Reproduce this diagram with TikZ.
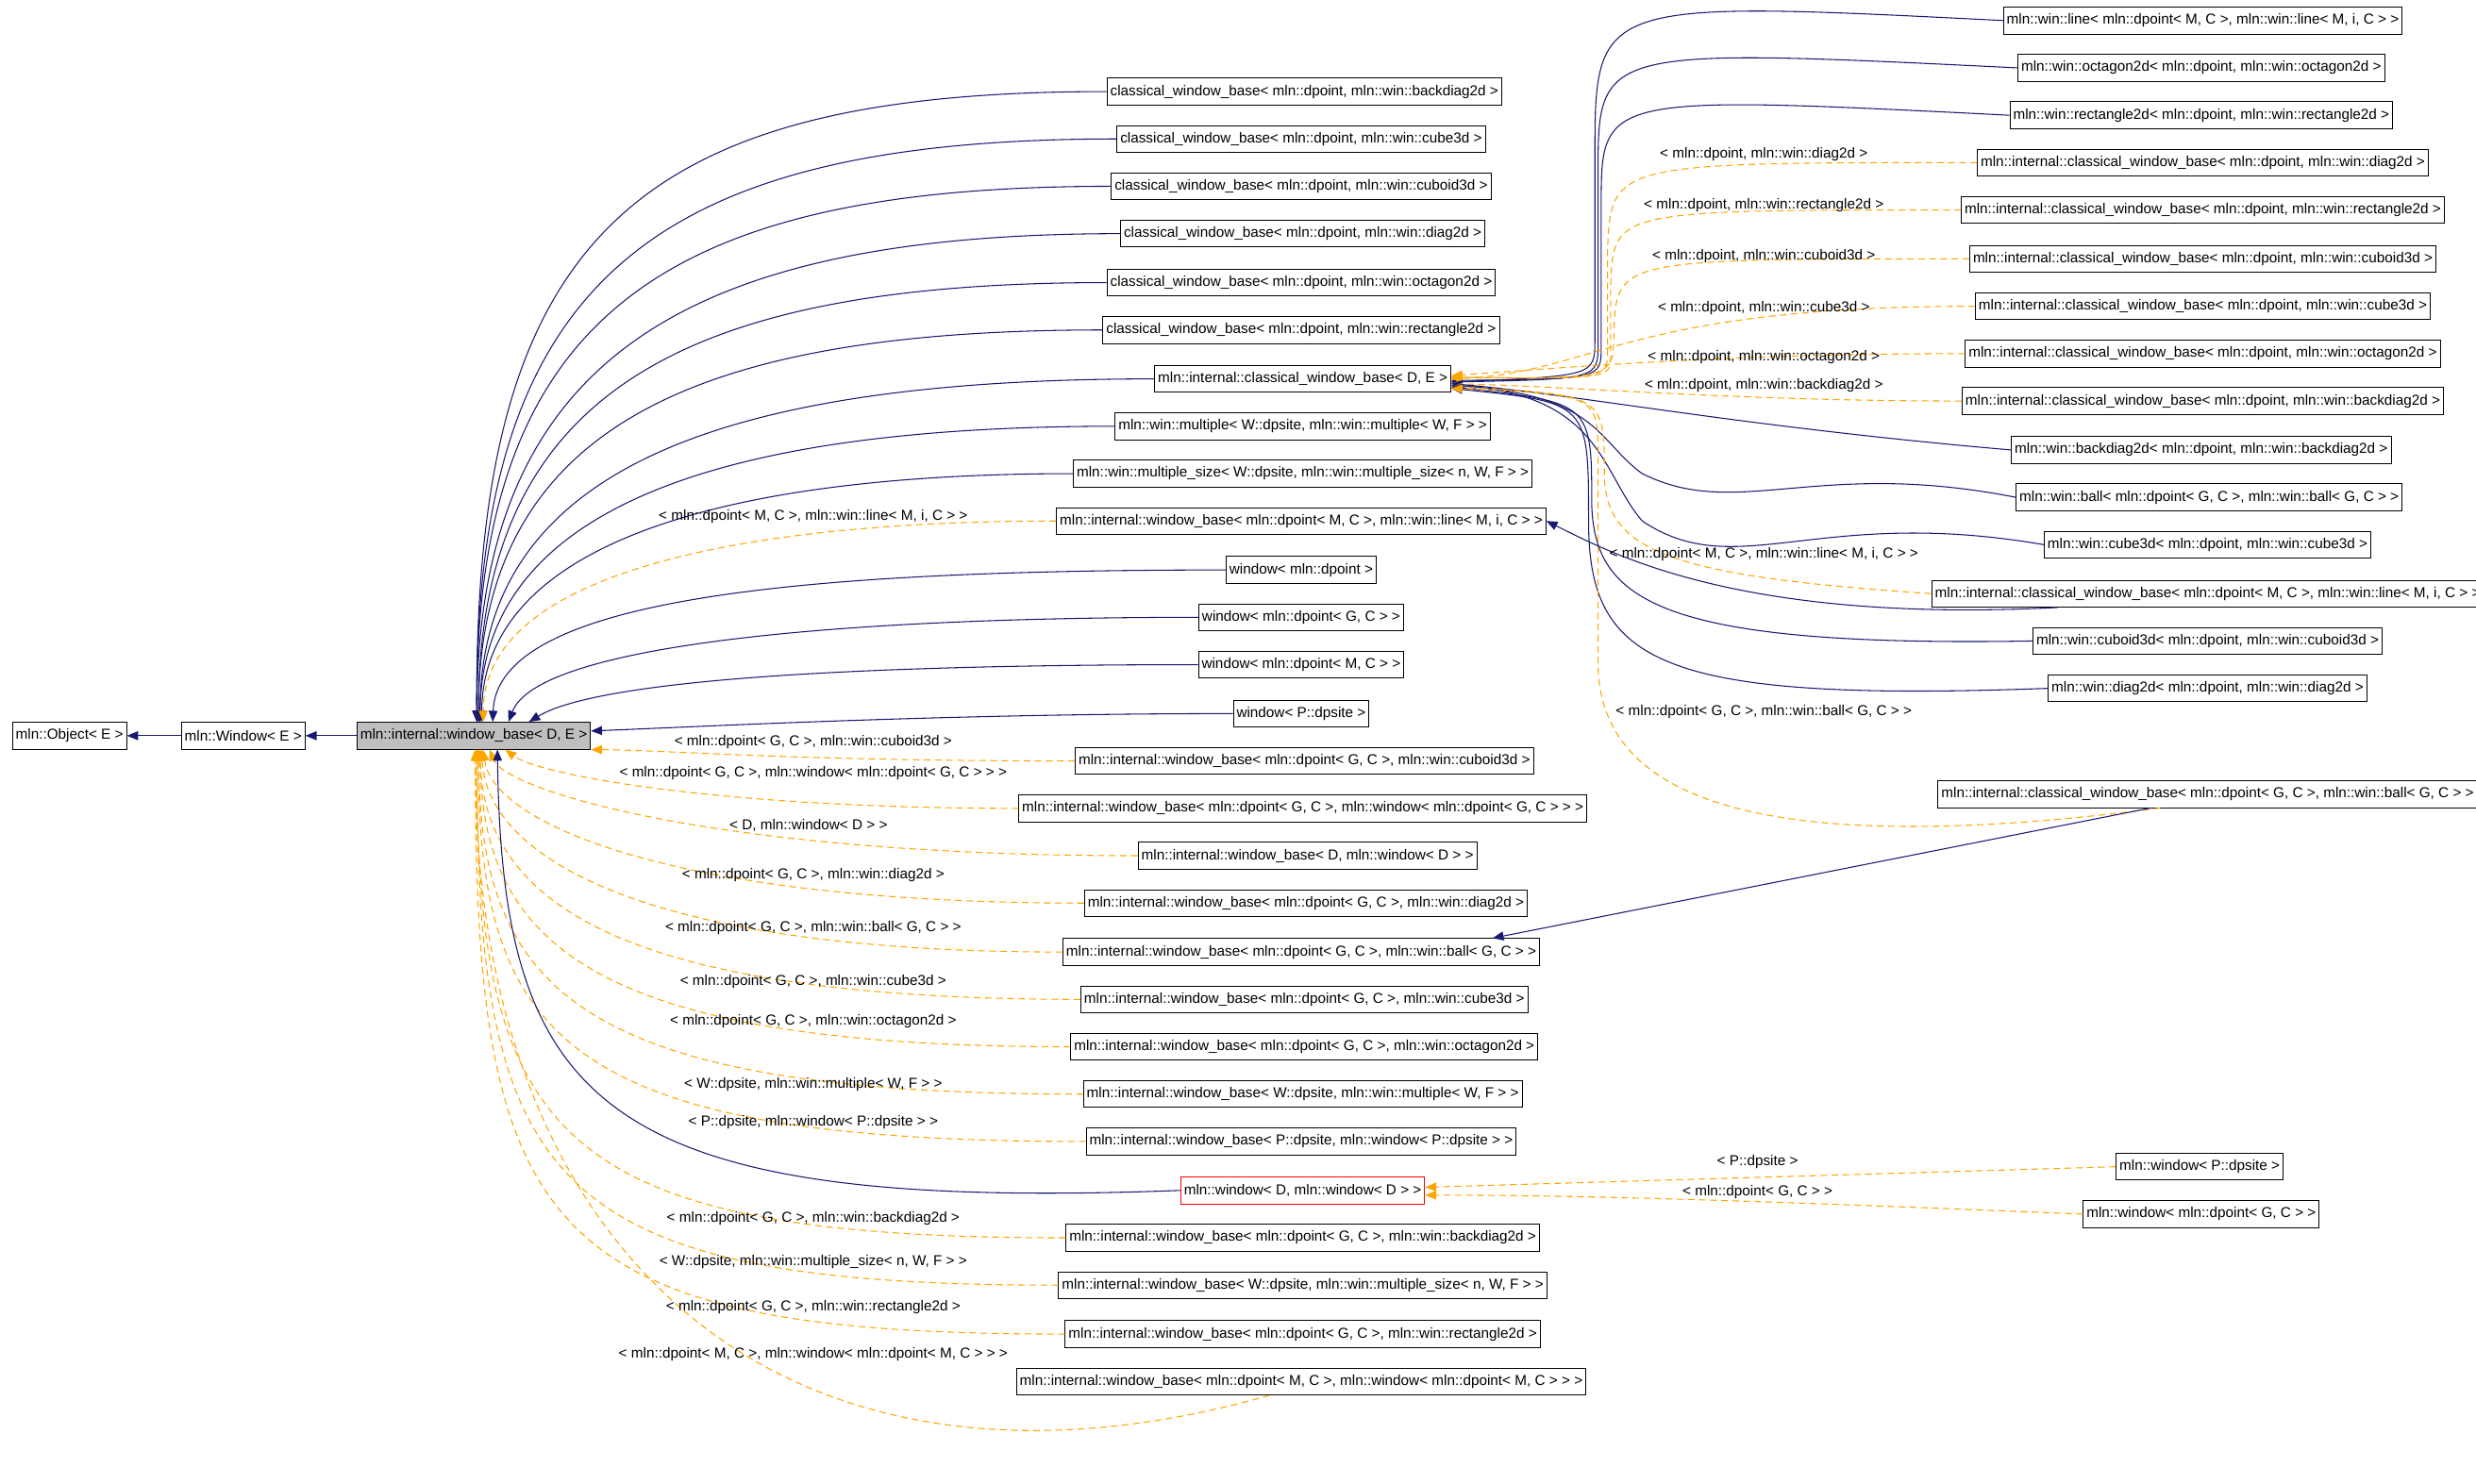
\documentclass[tikz,border=0pt]{standalone}
\usepackage{fontspec}
\setmainfont{Liberation Sans}
\usetikzlibrary{arrows.meta,calc}
\definecolor{nv}{HTML}{191970}
\definecolor{og}{HTML}{FFA500}
\definecolor{gb}{HTML}{BFBFBF}
\tikzset{
 box/.style={draw=black,line width=0.8pt,minimum height=0.85cm,inner xsep=3pt,inner ysep=0pt,font=\fontsize{13}{15}\selectfont,fill=white},
 lbl/.style={inner sep=1pt,font=\fontsize{13}{15}\selectfont},
 inh/.style={draw=nv,line width=0.9pt,-{Triangle[length=10pt,width=8pt]}},
 tpl/.style={draw=og,line width=0.9pt,dash pattern=on 6pt off 4pt,-{Triangle[length=10pt,width=8pt,fill=og]}},
}
\begin{document}
\begin{tikzpicture}[x=0.05cm,y=-0.05cm]
\useasboundingbox (0,0) rectangle (1568,939.4);
% left
\node[box] (obj) at (44,466) {mln::Object< E >};
\node[box] (win) at (154,466) {mln::Window< E >};
\node[box,fill=gb] (wb) at (300,466) {mln::internal::window\_base< D, E >};
% middle
\node[box] (n1) at (826,58) {classical\_window\_base< mln::dpoint, mln::win::backdiag2d >};
\node[box] (n2) at (824,88) {classical\_window\_base< mln::dpoint, mln::win::cube3d >};
\node[box] (n3) at (824,118) {classical\_window\_base< mln::dpoint, mln::win::cuboid3d >};
\node[box] (n4) at (825,148) {classical\_window\_base< mln::dpoint, mln::win::diag2d >};
\node[box] (n5) at (824,179) {classical\_window\_base< mln::dpoint, mln::win::octagon2d >};
\node[box] (n6) at (824,209) {classical\_window\_base< mln::dpoint, mln::win::rectangle2d >};
\node[box] (n7) at (825,240) {mln::internal::classical\_window\_base< D, E >};
\node[box] (n8) at (825,270) {mln::win::multiple< W::dpsite, mln::win::multiple< W, F > >};
\node[box] (n9) at (825,300) {mln::win::multiple\_size< W::dpsite, mln::win::multiple\_size< n, W, F > >};
\node[box] (n10) at (824,330) {mln::internal::window\_base< mln::dpoint< M, C >, mln::win::line< M, i, C > >};
\node[box] (n11) at (824,361) {window< mln::dpoint >};
\node[box] (n12) at (824,391) {window< mln::dpoint< G, C > >};
\node[box] (n13) at (824,421) {window< mln::dpoint< M, C > >};
\node[box] (n14) at (824,452) {window< P::dpsite >};
\node[box] (n15) at (826,482) {mln::internal::window\_base< mln::dpoint< G, C >, mln::win::cuboid3d >};
\node[box] (n16) at (825,512) {mln::internal::window\_base< mln::dpoint< G, C >, mln::window< mln::dpoint< G, C > > >};
\node[box] (n17) at (828,542) {mln::internal::window\_base< D, mln::window< D > >};
\node[box] (n18) at (827,572) {mln::internal::window\_base< mln::dpoint< G, C >, mln::win::diag2d >};
\node[box] (n19) at (824,603) {mln::internal::window\_base< mln::dpoint< G, C >, mln::win::ball< G, C > >};
\node[box] (n20) at (826,633) {mln::internal::window\_base< mln::dpoint< G, C >, mln::win::cube3d >};
\node[box] (n21) at (826,663) {mln::internal::window\_base< mln::dpoint< G, C >, mln::win::octagon2d >};
\node[box] (n22) at (825,693) {mln::internal::window\_base< W::dpsite, mln::win::multiple< W, F > >};
\node[box] (n23) at (824,723) {mln::internal::window\_base< P::dpsite, mln::window< P::dpsite > >};
\node[box,draw=red] (n24) at (825,754) {mln::window< D, mln::window< D > >};
\node[box] (n25) at (825,784) {mln::internal::window\_base< mln::dpoint< G, C >, mln::win::backdiag2d >};
\node[box] (n26) at (825,814) {mln::internal::window\_base< W::dpsite, mln::win::multiple\_size< n, W, F > >};
\node[box] (n27) at (825,845) {mln::internal::window\_base< mln::dpoint< G, C >, mln::win::rectangle2d >};
\node[box] (n28) at (824,875) {mln::internal::window\_base< mln::dpoint< M, C >, mln::window< mln::dpoint< M, C > > >};
% right
\node[box] (r1) at (1395,13) {mln::win::line< mln::dpoint< M, C >, mln::win::line< M, i, C > >};
\node[box] (r2) at (1394,43) {mln::win::octagon2d< mln::dpoint, mln::win::octagon2d >};
\node[box] (r3) at (1394,73) {mln::win::rectangle2d< mln::dpoint, mln::win::rectangle2d >};
\node[box] (r4) at (1395,103) {mln::internal::classical\_window\_base< mln::dpoint, mln::win::diag2d >};
\node[box] (r5) at (1395,133) {mln::internal::classical\_window\_base< mln::dpoint, mln::win::rectangle2d >};
\node[box] (r6) at (1395,164) {mln::internal::classical\_window\_base< mln::dpoint, mln::win::cuboid3d >};
\node[box] (r7) at (1395,194) {mln::internal::classical\_window\_base< mln::dpoint, mln::win::cube3d >};
\node[box] (r8) at (1395,224) {mln::internal::classical\_window\_base< mln::dpoint, mln::win::octagon2d >};
\node[box] (r9) at (1395,254) {mln::internal::classical\_window\_base< mln::dpoint, mln::win::backdiag2d >};
\node[box] (r10) at (1394,285) {mln::win::backdiag2d< mln::dpoint, mln::win::backdiag2d >};
\node[box] (r11) at (1399,315) {mln::win::ball< mln::dpoint< G, C >, mln::win::ball< G, C > >};
\node[box] (r12) at (1398,345) {mln::win::cube3d< mln::dpoint, mln::win::cube3d >};
\node[box,anchor=west] (r13) at (1223,376) {mln::internal::classical\_window\_base< mln::dpoint< M, C >, mln::win::line< M, i, C > >};
\node[box] (r14) at (1398,406) {mln::win::cuboid3d< mln::dpoint, mln::win::cuboid3d >};
\node[box] (r15) at (1398,436) {mln::win::diag2d< mln::dpoint, mln::win::diag2d >};
\node[box,anchor=west] (r16) at (1227,503) {mln::internal::classical\_window\_base< mln::dpoint< G, C >, mln::win::ball< G, C > >};
\node[box] (f1) at (1393,739) {mln::window< P::dpsite >};
\node[box] (f2) at (1394,769) {mln::window< mln::dpoint< G, C > >};
% left chain
\draw[inh] (win) -- (obj);
\draw[inh] (wb) -- (win);
% top group
\draw[inh] (n1.west) .. controls (400,58) and (300,150) .. ($(wb.north)+(2,0)$);
\draw[inh] (n2.west) .. controls (410,88) and (300,180) .. ($(wb.north)+(2,0)$);
\draw[inh] (n3.west) .. controls (420,118) and (300,200) .. ($(wb.north)+(2,0)$);
\draw[inh] (n4.west) .. controls (430,148) and (302,230) .. ($(wb.north)+(2,0)$);
\draw[inh] (n5.west) .. controls (430,179) and (303,250) .. ($(wb.north)+(3,0)$);
\draw[inh] (n6.west) .. controls (440,209) and (303,270) .. ($(wb.north)+(3,0)$);
\draw[inh] (n7.west) .. controls (450,240) and (304,300) .. ($(wb.north)+(4,0)$);
\draw[inh] (n8.west) .. controls (460,270) and (305,320) .. ($(wb.north)+(4,0)$);
\draw[inh] (n9.west) .. controls (470,300) and (306,340) .. ($(wb.north)+(5,0)$);
\draw[tpl] (n10.west) .. controls (480,330) and (306,360) .. ($(wb.north)+(6,0)$);
\draw[inh] (n11.west) .. controls (500,361) and (315,380) .. ($(wb.north)+(12,0)$);
\draw[inh] (n12.west) .. controls (520,391) and (340,410) .. ($(wb.north)+(22,0)$);
\draw[inh] (n13.west) .. controls (550,421) and (380,430) .. ($(wb.north)+(35,0)$);
\draw[inh] (n14.west) .. controls (600,452) and (450,460) .. ($(wb.east)+(0,-3)$);
% bottom group
\draw[tpl] (n15.west) .. controls (500,482) and (420,475) .. (wb.south east);
\draw[tpl] (n16.west) .. controls (450,512) and (340,490) .. ($(wb.south)+(20,0)$);
\draw[tpl] (n17.west) .. controls (450,542) and (320,500) .. ($(wb.south)+(10,0)$);
\draw[tpl] (n18.west) .. controls (420,572) and (312,520) .. ($(wb.south)+(6,0)$);
\draw[tpl] (n19.west) .. controls (400,603) and (308,540) .. ($(wb.south)+(5,0)$);
\draw[tpl] (n20.west) .. controls (390,633) and (306,570) .. ($(wb.south)+(4,0)$);
\draw[tpl] (n21.west) .. controls (380,663) and (305,600) .. ($(wb.south)+(4,0)$);
\draw[tpl] (n22.west) .. controls (370,693) and (304,630) .. ($(wb.south)+(3,0)$);
\draw[tpl] (n23.west) .. controls (360,723) and (303,660) .. ($(wb.south)+(3,0)$);
\draw[inh] (n24.west) .. controls (380,768) and (318,700) .. ($(wb.south)+(15,0)$);
\draw[tpl] (n25.west) .. controls (350,784) and (302,720) .. ($(wb.south)+(2,0)$);
\draw[tpl] (n26.west) .. controls (345,814) and (302,750) .. ($(wb.south)+(2,0)$);
\draw[tpl] (n27.west) .. controls (340,845) and (301,780) .. ($(wb.south)+(1,0)$);
\draw[tpl] ($(n28.south)+(-20,0)$) .. controls (500,970) and (300,800) .. ($(wb.south)+(1,0)$);
% right group to classical_window_base<D,E>
\draw[inh] (r1.west) .. controls (1010,0) .. (1010,100) -- (1010,215) .. controls (1010,238) .. ($(n7.east)+(0,2)$);
\draw[inh] (r2.west) .. controls (1012,30) .. (1012,110) -- (1012,218) .. controls (1012,240) .. ($(n7.east)+(0,2)$);
\draw[inh] (r3.west) .. controls (1014,60) .. (1014,130) -- (1014,220) .. controls (1014,240) .. ($(n7.east)+(0,1)$);
\draw[tpl] (r4.west) .. controls (1020,103) .. (1018,160) -- (1018,222) .. controls (1018,240) .. ($(n7.east)+(0,-1)$);
\draw[tpl] (r5.west) .. controls (1022,133) .. (1020,180) -- (1020,225) .. controls (1020,240) .. ($(n7.east)+(0,-1)$);
\draw[tpl] (r6.west) .. controls (1024,164) .. (1022,210) .. controls (1022,240) .. ($(n7.east)+(0,-1)$);
\draw[tpl] (r7.west) .. controls (1030,194) and (1010,236) .. ($(n7.east)+(0,0)$);
\draw[tpl] (r8.west) .. controls (1100,224) and (1000,232) .. ($(n7.east)+(0,-2)$);
\draw[tpl] (r9.west) .. controls (1100,254) and (1000,245) .. ($(n7.east)+(0,3)$);
\draw[inh] (r10.west) .. controls (1100,270) and (1000,250) .. ($(n7.east)+(0,3)$);
\draw[inh] (r11.west) .. controls (1150,290) and (1100,330) .. (1040,300) .. controls (1012,280) and (1012,250) .. ($(n7.east)+(0,4)$);
\draw[inh] (r12.west) .. controls (1150,320) and (1100,370) .. (1040,330) .. controls (1014,300) and (1014,250) .. ($(n7.east)+(0,4)$);
\draw[tpl] (r13.west) .. controls (1060,365) and (1016,350) .. (1016,300) .. controls (1016,250) .. ($(n7.east)+(0,5)$);
\draw[inh] (r14.west) .. controls (1050,410) and (1010,380) .. (1008,320) .. controls (1008,255) .. ($(n7.east)+(0,5)$);
\draw[inh] (r15.west) .. controls (1050,445) and (1006,420) .. (1006,330) .. controls (1006,255) .. ($(n7.east)+(0,6)$);
\draw[tpl] ($(r16.south)+(-30,0)$) .. controls (1150,540) and (1012,520) .. (1012,420) -- (1012,290) .. controls (1012,250) .. ($(n7.east)+(0,6)$);
\draw[inh] ($(r13.south west)+(80,0)$) .. controls (1100,395) and (1020,350) .. (n10.east);
\draw[inh] ($(r16.south west)+(135,0)$) -- ($(n19.north east)+(-30,0)$);
\draw[tpl] (f1.west) -- ($(n24.east)+(0,-2)$);
\draw[tpl] (f2.west) .. controls (1100,760) and (1000,757) .. ($(n24.east)+(0,3)$);
% labels
\node[lbl] (l10) at (515,327) {< mln::dpoint< M, C >, mln::win::line< M, i, C > >};
\node[lbl] (l15) at (515,470) {< mln::dpoint< G, C >, mln::win::cuboid3d >};
\node[lbl] (l16) at (515,490) {< mln::dpoint< G, C >, mln::window< mln::dpoint< G, C > > >};
\node[lbl] (l17) at (512,523) {< D, mln::window< D > >};
\node[lbl] (l18) at (515,554) {< mln::dpoint< G, C >, mln::win::diag2d >};
\node[lbl] (l19) at (515,588) {< mln::dpoint< G, C >, mln::win::ball< G, C > >};
\node[lbl] (l20) at (515,622) {< mln::dpoint< G, C >, mln::win::cube3d >};
\node[lbl] (l21) at (515,647) {< mln::dpoint< G, C >, mln::win::octagon2d >};
\node[lbl] (l22) at (515,687) {< W::dpsite, mln::win::multiple< W, F > >};
\node[lbl] (l23) at (515,711) {< P::dpsite, mln::window< P::dpsite > >};
\node[lbl] (l25) at (515,772) {< mln::dpoint< G, C >, mln::win::backdiag2d >};
\node[lbl] (l26) at (515,799) {< W::dpsite, mln::win::multiple\_size< n, W, F > >};
\node[lbl] (l27) at (515,828) {< mln::dpoint< G, C >, mln::win::rectangle2d >};
\node[lbl] (l28) at (515,858) {< mln::dpoint< M, C >, mln::window< mln::dpoint< M, C > > >};
\node[lbl] (lr4) at (1117,98) {< mln::dpoint, mln::win::diag2d >};
\node[lbl] (lr5) at (1117,130) {< mln::dpoint, mln::win::rectangle2d >};
\node[lbl] (lr6) at (1117,162) {< mln::dpoint, mln::win::cuboid3d >};
\node[lbl] (lr7) at (1117,195) {< mln::dpoint, mln::win::cube3d >};
\node[lbl] (lr8) at (1117,226) {< mln::dpoint, mln::win::octagon2d >};
\node[lbl] (lr9) at (1117,244) {< mln::dpoint, mln::win::backdiag2d >};
\node[lbl] (lr13) at (1117,351) {< mln::dpoint< M, C >, mln::win::line< M, i, C > >};
\node[lbl] (lr16) at (1117,451) {< mln::dpoint< G, C >, mln::win::ball< G, C > >};
\node[lbl] (lf1) at (1113,736) {< P::dpsite >};
\node[lbl] (lf2) at (1113,755) {< mln::dpoint< G, C > >};
\end{tikzpicture}
\end{document}
